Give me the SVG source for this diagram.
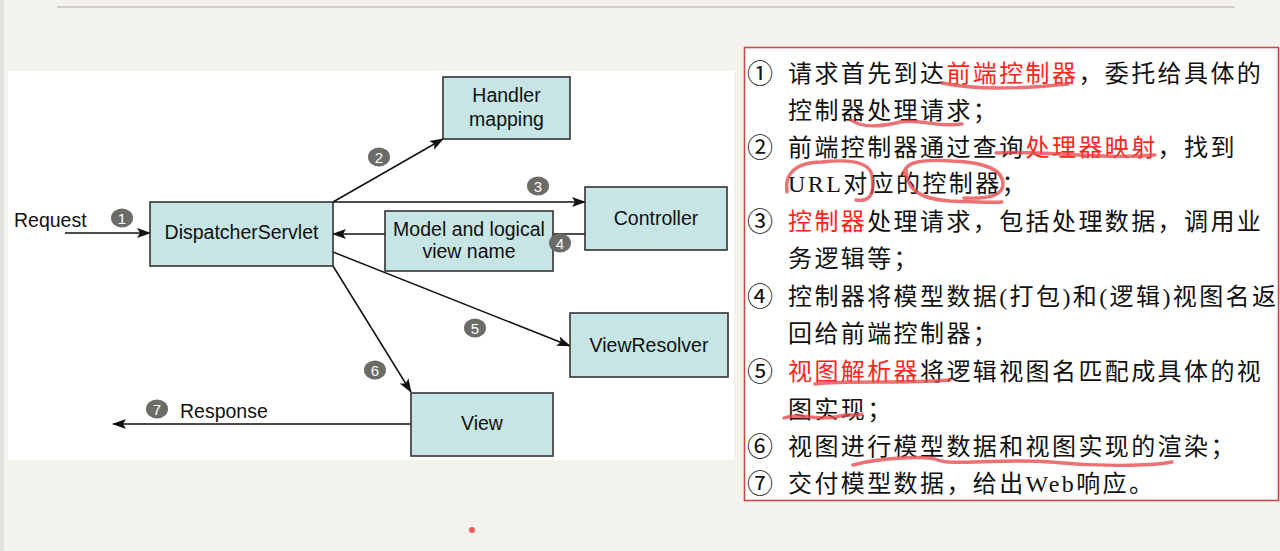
<svg xmlns="http://www.w3.org/2000/svg" width="1280" height="551" viewBox="0 0 1280 551">
<defs>
<marker id="ah" markerWidth="14" markerHeight="10" refX="13" refY="5" orient="auto" markerUnits="userSpaceOnUse">
<path d="M0,0 L14,5 L0,10 L3,5 Z" fill="#111"/>
</marker>
<style>
.box{fill:#c6e5e4;stroke:#333;stroke-width:1.6}
.lbl{font-family:"Liberation Sans",Arial,sans-serif;font-size:19.5px;fill:#111;text-anchor:middle}
.plain{font-family:"Liberation Sans",Arial,sans-serif;font-size:19.5px;fill:#111}
.edge{stroke:#111;stroke-width:1.5;fill:none}
.badge{fill:#6c6c67}
.bnum{font-family:"Liberation Sans",Arial,sans-serif;font-size:15px;fill:#fff;text-anchor:middle}
.cn{font-family:"Liberation Serif","Noto Sans CJK SC",serif;font-size:24px;fill:#111;letter-spacing:2.4px}
.num{font-family:"Noto Sans CJK SC",sans-serif;font-size:26px;fill:#111}
.red{fill:#ff2418}
.ink{fill:none;stroke:#e8484c;stroke-opacity:0.78;stroke-width:3.4;stroke-linecap:round;stroke-linejoin:round}
</style>
</defs>
<rect x="0" y="0" width="1280" height="551" fill="#f4f2ed"/>
<rect x="0" y="0" width="4" height="551" fill="#e2e1de"/>
<line x1="57" y1="7" x2="1235" y2="7" stroke="#d2cec8" stroke-width="2"/>
<rect x="8" y="71" width="726" height="389" fill="#ffffff"/>

<g id="connectors">
<line class="edge" x1="65" y1="233" x2="150" y2="233" marker-end="url(#ah)"/>
<line class="edge" x1="333" y1="202" x2="443" y2="139" marker-end="url(#ah)"/>
<line class="edge" x1="333" y1="202" x2="585" y2="202" marker-end="url(#ah)"/>
<line class="edge" x1="585" y1="234" x2="553" y2="234"/>
<line class="edge" x1="385" y1="234" x2="333" y2="234" marker-end="url(#ah)"/>
<line class="edge" x1="333" y1="252" x2="570" y2="346" marker-end="url(#ah)"/>
<line class="edge" x1="333" y1="266" x2="411" y2="392" marker-end="url(#ah)"/>
<line class="edge" x1="411" y1="424" x2="113" y2="424" marker-end="url(#ah)"/>
<text class="plain" x="14" y="227">Request</text>
<text class="plain" x="180" y="418">Response</text>
</g>

<g id="dispatcher"><rect class="box" x="150" y="202" width="183" height="64"/><text class="lbl" x="241.5" y="239">DispatcherServlet</text></g>
<g id="handler-mapping"><rect class="box" x="443" y="77" width="127" height="62"/><text class="lbl" x="506.5" y="102">Handler</text><text class="lbl" x="506.5" y="126">mapping</text></g>
<g id="controller"><rect class="box" x="585" y="187" width="142" height="63"/><text class="lbl" x="656" y="225">Controller</text></g>
<g id="model-view-name"><rect class="box" x="385" y="211" width="168" height="60"/><text class="lbl" x="469" y="236">Model and logical</text><text class="lbl" x="469" y="258">view name</text></g>
<g id="view-resolver"><rect class="box" x="570" y="313" width="158" height="64"/><text class="lbl" x="649" y="352">ViewResolver</text></g>
<g id="view"><rect class="box" x="411" y="393" width="142" height="63"/><text class="lbl" x="482" y="430">View</text></g>

<g id="badges">
<ellipse class="badge" cx="122" cy="218" rx="11" ry="9.5"/><text class="bnum" x="122" y="223.5">1</text>
<ellipse class="badge" cx="379" cy="157" rx="11" ry="9.5"/><text class="bnum" x="379" y="162.5">2</text>
<ellipse class="badge" cx="538" cy="186" rx="11" ry="9.5"/><text class="bnum" x="538" y="191.5">3</text>
<ellipse class="badge" cx="560" cy="243" rx="11" ry="9.5"/><text class="bnum" x="560" y="248.5">4</text>
<ellipse class="badge" cx="475" cy="328" rx="11" ry="9.5"/><text class="bnum" x="475" y="333.5">5</text>
<ellipse class="badge" cx="375" cy="370" rx="11" ry="9.5"/><text class="bnum" x="375" y="375.5">6</text>
<ellipse class="badge" cx="157" cy="409" rx="11" ry="9.5"/><text class="bnum" x="157" y="414.5">7</text>
</g>

<g id="notes">
<rect x="744.5" y="47.5" width="534" height="453" fill="#ffffff" stroke="#c24a48" stroke-width="1.6"/>
<text class="num" x="747" y="83">①</text>
<text class="cn" x="788" y="82">请求首先到达<tspan class="red">前端控制器</tspan>，委托给具体的</text>
<text class="cn" x="788" y="119">控制器处理请求；</text>
<text class="num" x="747" y="157">②</text>
<text class="cn" x="788" y="156">前端控制器通过查询<tspan class="red">处理器映射</tspan>，找到</text>
<text class="cn" x="788" y="192">URL对应的控制器；</text>
<text class="num" x="747" y="231">③</text>
<text class="cn" x="788" y="230"><tspan class="red">控制器</tspan>处理请求，包括处理数据，调用业</text>
<text class="cn" x="788" y="267">务逻辑等；</text>
<text class="num" x="747" y="306">④</text>
<text class="cn" x="788" y="305">控制器将模型数据(打包)和(逻辑)视图名返</text>
<text class="cn" x="788" y="342">回给前端控制器；</text>
<text class="num" x="747" y="381">⑤</text>
<text class="cn" x="788" y="380"><tspan class="red">视图解析器</tspan>将逻辑视图名匹配成具体的视</text>
<text class="cn" x="788" y="418">图实现；</text>
<text class="num" x="747" y="456">⑥</text>
<text class="cn" x="788" y="455">视图进行模型数据和视图实现的渲染；</text>
<text class="num" x="747" y="493">⑦</text>
<text class="cn" x="788" y="492">交付模型数据，给出Web响应。</text>
</g>

<g id="annotations">
<path class="ink" d="M942 83 C975 90 1020 89 1068 84"/>
<path class="ink" d="M851 120 C862 128 880 127 900 122 C920 118 935 128 962 124"/>
<path class="ink" d="M996 153 C1040 150 1100 160 1155 155"/>
<path class="ink" d="M787 192 C784 172 798 162 822 162 C850 159 870 162 872 176 C875 194 870 202 856 200"/>
<path class="ink" d="M904 175 C903 161 925 159 952 161 C985 162 1003 170 1003 184 C1003 196 988 199 964 198 M906 168 C906 190 920 199 950 201 C975 202 990 203 1002 202"/>
<path class="ink" d="M815 384 C850 380 900 384 950 380"/>
<path class="ink" d="M784 418 C800 412 820 422 840 416 C850 414 858 416 862 414"/>
<path class="ink" d="M853 465 C880 458 925 455 938 460 C952 466 1000 458 1050 462 C1100 467 1150 466 1172 462"/>
<circle cx="472" cy="530" r="3" fill="#f05a5a"/>
</g>
</svg>
